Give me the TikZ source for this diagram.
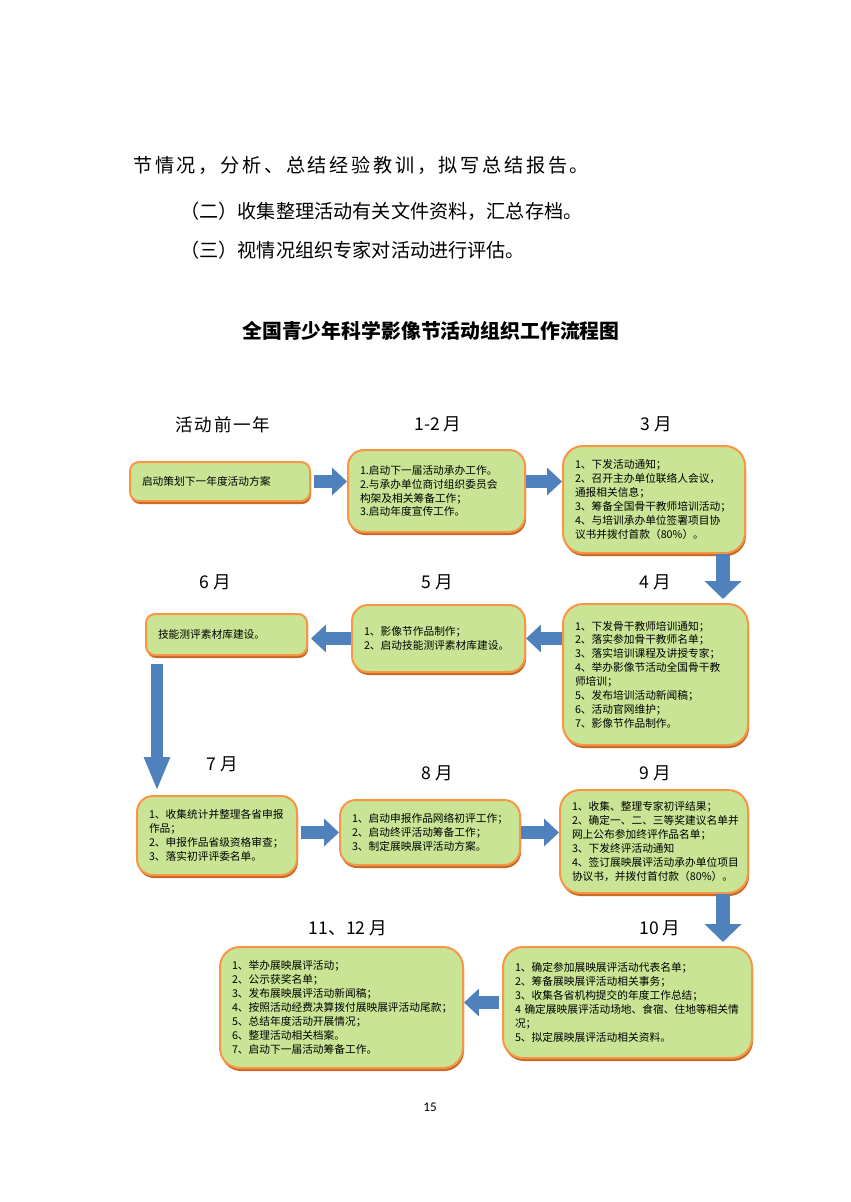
\documentclass[tikz,border=0pt]{standalone}
\usepackage{fontspec}
\setmainfont{Noto Sans CJK SC}
\newfontfamily\pagefont{Carlito}
\usepackage{xcolor}
\usepackage{tikz}
\usetikzlibrary{positioning,arrows.meta,calc,shadows}

\definecolor{boxfill}{RGB}{200,228,148}
\definecolor{boxline}{RGB}{247,150,70}
\definecolor{boxshade}{RGB}{200,104,36}
\definecolor{arrowblue}{RGB}{79,129,189}

\newdimen\unitpx
\unitpx=0.02cm
\hfuzz=30pt

\tikzset{
	stage/.style={rectangle, rounded corners=16\unitpx, draw=boxline, line width=2\unitpx, fill=boxfill,
		inner xsep=12\unitpx, inner ysep=4\unitpx, align=left, font=\fontsize{6.1pt}{7.9pt}\selectfont,
		drop shadow={shadow xshift=1\unitpx, shadow yshift=-3\unitpx, fill=boxshade, opacity=1}},
	month/.style={inner sep=0pt, font=\fontsize{10pt}{12pt}\selectfont},
	bodytext/.style={inner sep=0pt, anchor=west, font=\fontsize{10.9pt}{13pt}\selectfont},
	flow/.style={draw=arrowblue, line width=7.9pt, -{Triangle[length=8.5pt, width=15.3pt]}},
	flowdown/.style={flow, line width=8.5pt, -{Triangle[length=10.2pt, width=20.4pt]}},
	flowlong/.style={flow, line width=6.8pt, -{Triangle[length=19.3pt, width=13.6pt]}}
}

\begin{document}
\begin{tikzpicture}[x=0.02cm, y=-0.02cm]
	\useasboundingbox (0,0) rectangle (850,1202);

	\node[bodytext] (line1) at (133,165) {\addfontfeatures{LetterSpace=14}节情况，分析、总结经验教训，拟写总结报告。};
	\node[bodytext] (line2) at (180,211) {（二）收集整理活动有关文件资料，汇总存档。};
	\node[bodytext] (line3) at (180,250) {（三）视情况组织专家对活动进行评估。};
	\node[inner sep=0pt, font=\fontsize{11.3pt}{13pt}\selectfont\bfseries] (title) at (431,331) {全国青少年科学影像节活动组织工作流程图};

	\node[month] (lpre) at (223,425) {\addfontfeatures{LetterSpace=10}活动前一年};
	\node[month] (l12) at (438,424) {1-2 月};
	\node[month] (l3) at (656,424) {3 月};
	\node[month] (l6) at (215,582) {6 月};
	\node[month] (l5) at (437,582) {5 月};
	\node[month] (l4) at (655,582) {4 月};
	\node[month] (l7) at (222,764) {7 月};
	\node[month] (l8) at (437,773) {8 月};
	\node[month] (l9) at (655,773) {9 月};
	\node[month] (l1112) at (348,928) {11、12 月};
	\node[month] (l10) at (660,928) {10 月};

	\node[stage, rounded corners=9\unitpx, minimum width=180\unitpx, minimum height=39\unitpx, text width=156\unitpx] (pre) at (220,481.5)
		{启动策划下一年度活动方案};
	\node[stage, minimum width=177\unitpx, minimum height=82\unitpx, text width=153\unitpx] (m12) at (436.5,491)
		{1.启动下一届活动承办工作。\\ 2.与承办单位商讨组织委员会\\ 构架及相关筹备工作；\\ 3.启动年度宣传工作。};
	\node[stage, rounded corners=20\unitpx, minimum width=182\unitpx, minimum height=107\unitpx, text width=158\unitpx] (m3) at (654,499.5)
		{1、下发活动通知；\\ 2、召开主办单位联络人会议，\\ 通报相关信息；\\ 3、筹备全国骨干教师培训活动；\\ 4、与培训承办单位签署项目协\\ 议书并拨付首款（80\%）。};

	\node[stage, rounded corners=20\unitpx, minimum width=185\unitpx, minimum height=141\unitpx, text width=161\unitpx] (m4) at (655.5,674.5)
		{1、下发骨干教师培训通知；\\ 2、落实参加骨干教师名单；\\ 3、落实培训课程及讲授专家；\\ 4、举办影像节活动全国骨干教\\ 师培训；\\ 5、发布培训活动新闻稿；\\ 6、活动官网维护；\\ 7、影像节作品制作。};
	\node[stage, minimum width=173\unitpx, minimum height=67\unitpx, text width=149\unitpx] (m5) at (438.5,638.5)
		{1、影像节作品制作；\\ 2、启动技能测评素材库建设。};
	\node[stage, rounded corners=9\unitpx, minimum width=161\unitpx, minimum height=41\unitpx, text width=137\unitpx] (m6) at (226.5,634.5)
		{技能测评素材库建设。};

	\node[stage, minimum width=160\unitpx, minimum height=79\unitpx, text width=136\unitpx] (m7) at (217,835.5)
		{1、收集统计并整理各省申报\\ 作品；\\ 2、申报作品省级资格审查；\\ 3、落实初评评委名单。};
	\node[stage, minimum width=180\unitpx, minimum height=65\unitpx, text width=156\unitpx] (m8) at (430,832.5)
		{1、启动申报作品网络初评工作；\\ 2、启动终评活动筹备工作；\\ 3、制定展映展评活动方案。};
	\node[stage, rounded corners=20\unitpx, minimum width=188\unitpx, minimum height=103\unitpx, text width=164\unitpx] (m9) at (654,841.5)
		{1、收集、整理专家初评结果；\\ 2、确定一、二、三等奖建议名单并\\ 网上公布参加终评作品名单；\\ 3、下发终评活动通知\\ 4、签订展映展评活动承办单位项目\\ 协议书，并拨付首付款（80\%）。};

	\node[stage, rounded corners=20\unitpx, minimum width=249\unitpx, minimum height=111\unitpx, text width=225\unitpx] (m10) at (627.5,1002.5)
		{1、确定参加展映展评活动代表名单；\\ 2、筹备展映展评活动相关事务；\\ 3、收集各省机构提交的年度工作总结；\\ 4~确定展映展评活动场地、食宿、住地等相关情\\ 况；\\ 5、拟定展映展评活动相关资料。};
	\node[stage, rounded corners=20\unitpx, minimum width=243\unitpx, minimum height=121\unitpx, text width=219\unitpx] (m1112) at (341.5,1007.5)
		{1、举办展映展评活动；\\ 2、公示获奖名单；\\ 3、发布展映展评活动新闻稿；\\ 4、按照活动经费决算拨付展映展评活动尾款；\\ 5、总结年度活动开展情况；\\ 6、整理活动相关档案。\\ 7、启动下一届活动筹备工作。};

	\draw[flow, shorten <=1.7pt] (pre.east) -- (m12.west |- pre.east);
	\draw[flow] (m12.east |- pre.east) -- (m3.west |- pre.east);
	\draw[flowdown] ($(m3.south east)+(-23,0)$) -- ($(m3.south east |- m4.north)+(-23,-4)$);
	\draw[flow] (m4.west |- m5.west) -- (m5.east);
	\draw[flow, shorten >=1.7pt] (m5.west) -- (m6.east |- m5.west);
	\draw[flowlong, shorten <=4.5pt, shorten >=2.3pt] ($(m6.south west)+(12,0)$) -- ($(m6.south west |- m7.north)+(12,0)$);
	\draw[flow, shorten <=1.7pt] (m7.east |- m8.west) -- (m8.west);
	\draw[flow] (m8.east) -- (m9.west |- m8.east);
	\draw[flowdown] ($(m9.south east)+(-26,0)$) -- ($(m9.south east |- m10.north)+(-26,-4)$);
	\draw[flow, shorten <=1.7pt] (m10.west) -- (m1112.east |- m10.west);

	\node[inner sep=0pt, font=\pagefont\fontsize{7.5pt}{9pt}\selectfont] (pagenum) at (430,1107) {15};
\end{tikzpicture}
\end{document}
